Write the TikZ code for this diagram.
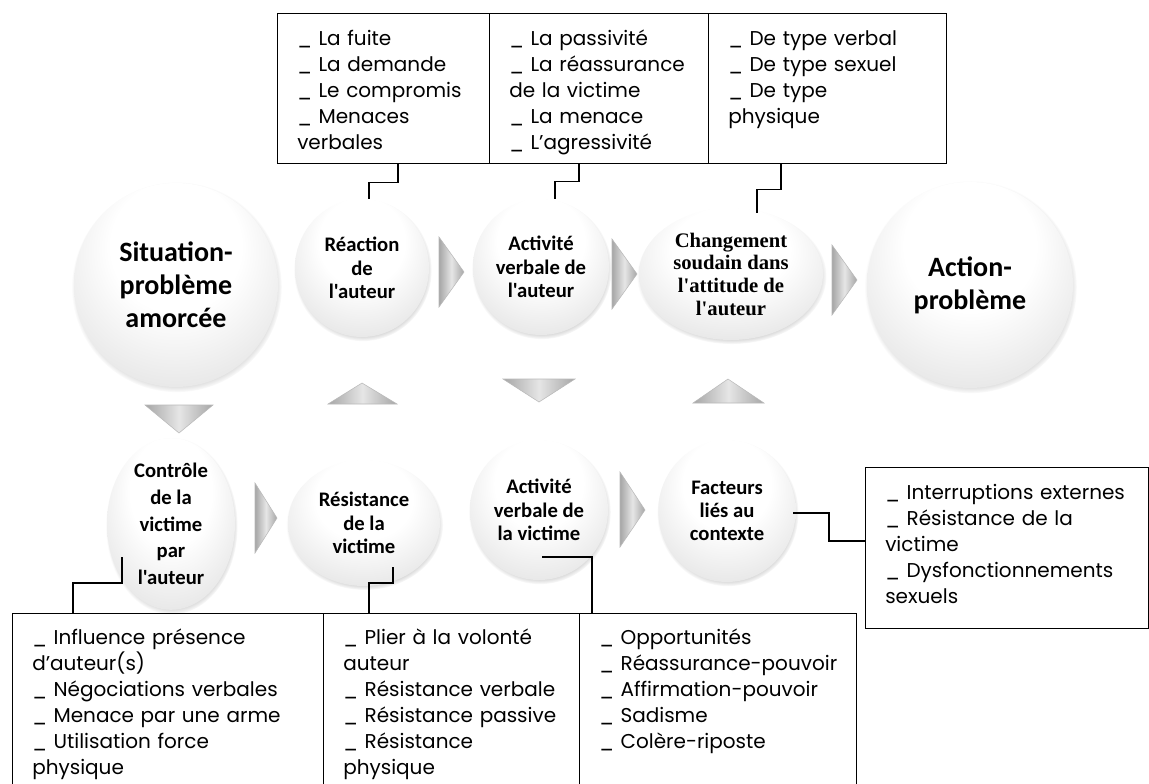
\documentclass[tikz,border=0pt]{standalone}
\usepackage{fontspec}
\usetikzlibrary{shapes.geometric,shadows,calc}

\newfontfamily\carlito{Carlito}
\newfontfamily\cambria{Liberation Serif}
\newfontfamily\gothic{Poppins}

\pgfdeclareradialshading{bulle}{\pgfpoint{0bp}{14bp}}{color(0bp)=(white); color(16bp)=(white); color(34bp)=(gray!22); color(46bp)=(gray!48); color(50bp)=(gray!58)}

\newcommand{\fleche}[6]{
    \shade[fleche] (#1,#2) -- (#3,#4) -- (#5,#6) -- cycle;
}

\begin{document}
\begin{tikzpicture}[x=0.75pt,y=-0.75pt,
    bulle/.style={ellipse,inner sep=0pt,align=center,shading=bulle,
        circular drop shadow={shadow xshift=0.5pt,shadow yshift=-1.5pt,shadow scale=1.03,opacity=.6}},
    grande/.style={bulle,font=\carlito\bfseries\fontsize{21}{24.75}\selectfont},
    petite/.style={bulle,font=\carlito\bfseries\fontsize{15.5}{17.5}\selectfont},
    boite/.style={draw,line width=1.1pt,anchor=north west,inner sep=0pt},
    liste/.style={anchor=base west,inner sep=0pt,text width=250pt,align=left,
        font=\gothic\fontsize{15}{19.5}\selectfont},
    lien/.style={line width=1.2pt},
    fleche/.style={left color=gray!70,right color=gray!70,middle color=gray!20,draw=gray!55,line width=0.4pt}]

\fill[white] (0,0) rectangle (1149,783);
\useasboundingbox (0,0) rectangle (1149,783);
\clip (0,0) rectangle (1149,783);

% ligne du haut
\node[grande,minimum width=153pt,minimum height=153pt] (sit) at (176,285) {Situation-\\problème\\amorcée};
\node[petite,minimum width=100.5pt,minimum height=103.5pt] (reac) at (362,268) {Réaction\\de\\l'auteur};
\node[petite,minimum width=102pt,minimum height=102pt] (acta) at (541,267) {Activité\\verbale de\\l'auteur};
\node[bulle,minimum width=138pt,minimum height=99pt,font=\cambria\bfseries\fontsize{15.5}{17}\selectfont] (chg) at (731,274) {Changement\\soudain dans\\l'attitude de\\l'auteur};
\node[grande,minimum width=154.5pt,minimum height=154.5pt] (act) at (970,285) {Action-\\problème};

% ligne du bas
\node[petite,minimum width=96pt,minimum height=88pt,font=\carlito\bfseries\fontsize{15.5}{20}\selectfont] (ctrl) at (171,524) {Contrôle\\de la\\victime\\par\\l'auteur};
\node[petite,minimum width=114pt,minimum height=94.5pt] (res) at (364,523) {Résistance\\de la\\victime};
\node[petite,minimum width=103.5pt,minimum height=105pt] (actv) at (539,510) {Activité\\verbale de\\la victime};
\node[petite,minimum width=103pt,minimum height=106.5pt] (fact) at (727,511) {Facteurs\\liés au\\contexte};

\fleche{439}{237}{464}{272}{439}{307}
\fleche{612}{239}{637}{274}{612}{309}
\fleche{832}{245}{857}{280}{832}{315}
\fleche{255}{483}{277}{518}{255}{553}
\fleche{620}{472}{645}{510}{620}{547}

\fleche{145}{405}{213}{405}{179}{433}
\fleche{503}{379}{575}{379}{539}{402}
\fleche{328}{404}{397}{404}{362}{383}
\fleche{693}{403}{764}{403}{728}{379}

% boites du haut
\node[boite,minimum width=159pt,minimum height=112.5pt] (bR) at (277,13) {};
\node[boite,minimum width=164.25pt,minimum height=112.5pt] (bA) at (489,13) {};
\node[boite,minimum width=178.5pt,minimum height=112.5pt] (bC) at (708,13) {};

\node[liste] (tR) at ($(bR.north west)+(20,32)$) {\_ La fuite\\\_ La demande\\\_ Le compromis\\\_ Menaces\\verbales};
\node[liste] (tA) at ($(bA.north west)+(20,32)$) {\_ La passivité\\\_ La réassurance\\de la victime\\\_ La menace\\\_ L’agressivité};
\node[liste] (tC) at ($(bC.north west)+(20,32)$) {\_ De type verbal\\\_ De type sexuel\\\_ De type\\physique};

% boites du bas
\node[boite,minimum width=233.25pt,minimum height=140.25pt] (bCtrl) at (12,613) {};
\node[boite,minimum width=192pt,minimum height=140.25pt] (bRes) at (323,613) {};
\node[boite,minimum width=207.75pt,minimum height=140.25pt] (bActv) at (579,613) {};
\node[boite,minimum width=212.25pt,minimum height=120.75pt] (bFact) at (865,467) {};

\node[liste] (tCtrl) at ($(bCtrl.north west)+(20,31)$) {\_ Influence présence\\d’auteur(s)\\\_ Négociations verbales\\\_ Menace par une arme\\\_ Utilisation force\\physique};
\node[liste] (tRes) at ($(bRes.north west)+(20,31)$) {\_ Plier à la volonté\\auteur\\\_ Résistance verbale\\\_ Résistance passive\\\_ Résistance\\physique};
\node[liste] (tActv) at ($(bActv.north west)+(20,31)$) {\_ Opportunités\\\_ Réassurance-pouvoir\\\_ Affirmation-pouvoir\\\_ Sadisme\\\_ Colère-riposte};
\node[liste] (tFact) at ($(bFact.north west)+(20,32)$) {\_ Interruptions externes\\\_ Résistance de la\\victime\\\_ Dysfonctionnements\\sexuels};

% liens
\draw[lien] ($(bR.south west)+(121,0)$) -- ++(0,18) -| ($(reac.center)+(7,-69)$);
\draw[lien] ($(bA.south west)+(90,0)$) -- ++(0,17) -| ($(acta.center)+(14,-68)$);
\draw[lien] ($(bC.south west)+(73,0)$) -- ++(0,25) -| ($(chg.center)+(26,-61)$);

\draw[lien] ($(ctrl.center)+(-49,33)$) -- ++(0,26) -| ($(bCtrl.north west)+(61,0)$);
\draw[lien] ($(res.center)+(29,44)$) -- ++(0,16) -| ($(bRes.north west)+(46,0)$);
\draw[lien] ($(actv.center)+(3,47)$) -| ($(bActv.north west)+(13,0)$);
\draw[lien] ($(fact.center)+(66,2)$) -- ++(36,0) |- ($(bFact.north west)+(0,74)$);

\end{tikzpicture}
\end{document}
